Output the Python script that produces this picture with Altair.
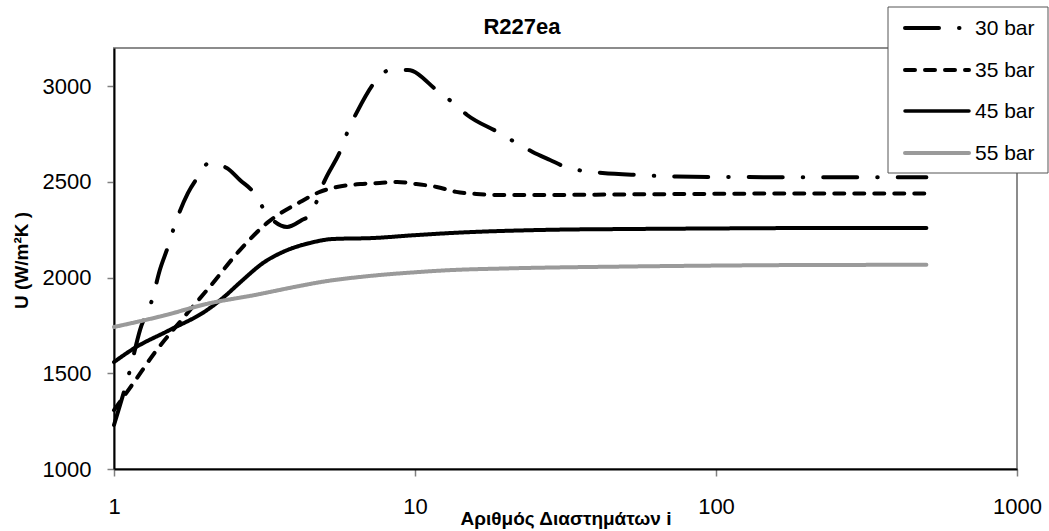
import altair as alt
import pandas as pd

FONT = "Liberation Sans"

series_names = ["30 bar", "35 bar", "45 bar", "55 bar"]

x30 = [1, 1.13, 1.22, 1.34, 1.42, 1.51, 1.58, 1.76, 1.89, 2.07, 2.37, 2.62, 2.92, 3.13,
       3.37, 3.76, 4.21, 4.48, 5.02, 5.72, 6.0, 6.42, 7.36, 8.26, 9.47, 11.9, 13.4, 14.9,
       19.1, 21.7, 24.6, 28.1, 31.7, 36.4, 42, 55.8, 74, 100, 200, 500]
u30 = [1230, 1517, 1726, 1888, 2040, 2160, 2259, 2442, 2521, 2599, 2573, 2510, 2442, 2364,
       2301, 2265, 2301, 2327, 2510, 2683, 2772, 2866, 3022, 3085, 3085, 2975, 2913, 2850,
       2756, 2704, 2657, 2615, 2578, 2557, 2547, 2536, 2528, 2526, 2525, 2525]

x35 = [1, 1.16, 1.37, 1.7, 2.1, 2.62, 3.25, 4.15, 4.83, 5.5, 6.58, 7.64, 8.72, 10.1, 11.8,
       13.7, 16, 19.2, 26, 50, 100, 200, 500]
u35 = [1308, 1449, 1611, 1790, 1960, 2144, 2290, 2395, 2448, 2474, 2489, 2495, 2500, 2489,
       2474, 2448, 2437, 2432, 2432, 2435, 2438, 2440, 2440]

x45 = [1, 1.17, 1.53, 2.04, 2.3, 2.68, 3.13, 3.64, 4.48, 5.34, 7.25, 10, 13.1, 28, 50, 100,
       176, 500]
u45 = [1559, 1632, 1726, 1831, 1894, 1988, 2077, 2134, 2181, 2202, 2207, 2222, 2233, 2250,
       2254, 2257, 2259, 2260]

x55 = [1, 1.5, 2, 3, 4, 5, 7, 10, 13, 20, 50, 100, 200, 500]
u55 = [1742, 1806, 1860, 1912, 1952, 1980, 2008, 2028, 2039, 2048, 2058, 2063, 2066, 2067]

x_ticks = [1, 10, 100, 1000]
y_ticks = [1000, 1500, 2000, 2500, 3000]

chart_title = "R227ea"

rows = []
for name, xs, us in zip(series_names, [x30, x35, x45, x55], [u30, u35, u45, u55]):
    for xv, uv in zip(xs, us):
        rows.append({"series": name, "i": xv, "U": uv})
df = pd.DataFrame(rows)

colors = ["#000000", "#000000", "#000000", "#9a9a9a"]
dashes = [[34, 20, 0.5, 20], [10, 10], [1, 0], [1, 0]]
widths = [4, 4, 3.5, 4]

W, H = 903, 421
OX, OY = 114, 48  # plot-area origin inside the page

lines = alt.Chart(df).mark_line(
    interpolate="monotone", strokeCap="round", strokeJoin="round"
).encode(
    x=alt.X("i:Q",
            scale=alt.Scale(type="log", domain=[1, 1000]),
            axis=alt.Axis(values=x_ticks, format="d", title="Αριθμός Διαστημάτων i",
                          labelFlush=False, labelOverlap=False, labelPadding=20,
                          titleY=49, titleBaseline="middle")),
    y=alt.Y("U:Q",
            scale=alt.Scale(domain=[1000, 3200], nice=False, zero=False),
            axis=alt.Axis(values=y_ticks, format="d", title="U (W/m²K )",
                          labelPadding=16, titleX=-93, titleY=212,
                          titleAngle=-90, titleBaseline="middle", titleAlign="center")),
    color=alt.Color("series:N", scale=alt.Scale(domain=series_names, range=colors), legend=None),
    strokeDash=alt.StrokeDash("series:N", scale=alt.Scale(domain=series_names, range=dashes), legend=None),
    strokeWidth=alt.StrokeWidth("series:N", scale=alt.Scale(domain=series_names, range=widths), legend=None),
    detail="series:N",
)

one = pd.DataFrame({"a": [0]})

title_mark = alt.Chart(one).mark_text(
    text=chart_title, align="center", baseline="middle", font=FONT, fontSize=22,
    fontWeight="bold", color="black"
).encode(x=alt.value(522 - OX), y=alt.value(27 - OY))

# Legend (drawn manually to match the boxed legend at top right)
legend_box = alt.Chart(one).mark_rect(
    fill="white", stroke="#555555", strokeWidth=1
).encode(x=alt.value(888 - OX), x2=alt.value(1048 - OX),
         y=alt.value(7 - OY), y2=alt.value(173 - OY))

row_y = [-20, 22, 63, 105]
legend_layers = [legend_box]
for name, c, d, w, yy in zip(series_names, colors, dashes, widths, row_y):
    legend_layers.append(
        alt.Chart(one).mark_rule(
            color=c, strokeDash=d, strokeWidth=w, strokeCap="round"
        ).encode(x=alt.value(905 - OX), x2=alt.value(969 - OX), y=alt.value(yy))
    )
    legend_layers.append(
        alt.Chart(one).mark_text(
            text=name, align="left", baseline="middle", font=FONT, fontSize=21, color="black"
        ).encode(x=alt.value(975 - OX), y=alt.value(yy + 1))
    )

chart = alt.layer(lines, title_mark, *legend_layers).properties(
    width=W, height=H,
    autosize=alt.AutoSizeParams(type="none"),
    padding={"left": OX, "top": OY, "right": 1049 - OX - W, "bottom": 531 - OY - H},
    background="white",
).configure_view(
    stroke="#8c8c8c", strokeWidth=2
).configure_axis(
    grid=False, domainColor="black", domainWidth=2, tickColor="#808080", tickSize=7,
    tickWidth=1.5, labelFont=FONT, labelFontSize=22, labelColor="black",
    titleFont=FONT, titleFontSize=19, titleFontWeight="bold", titleColor="black",
)

chart.save("out.html", embed_options={"renderer": "svg", "actions": False})
